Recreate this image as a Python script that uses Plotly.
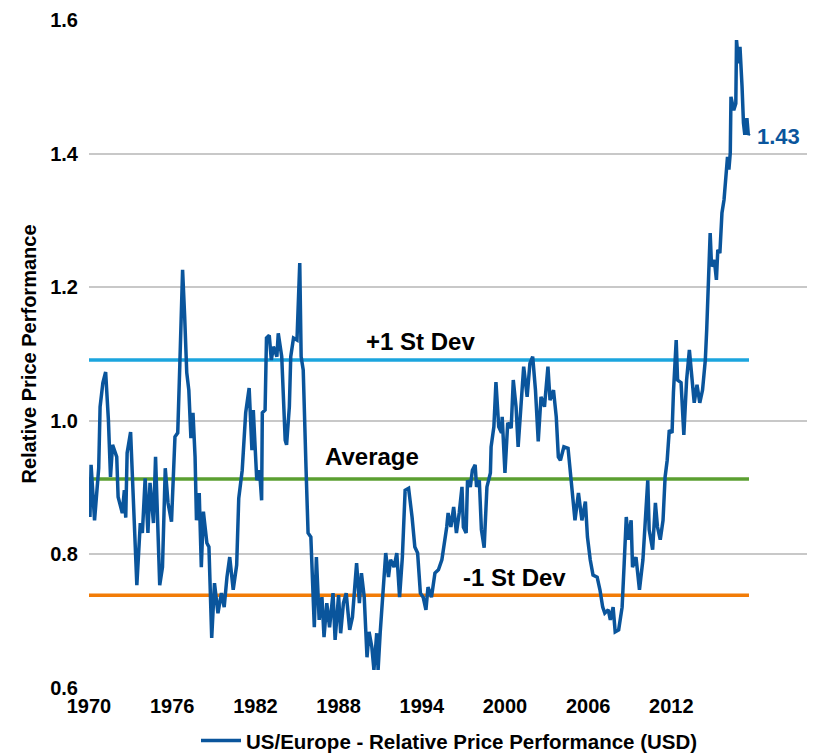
import plotly.graph_objects as go

# Time (fractional year) and relative price performance
years = [
    1970.07, 1970.15, 1970.4, 1970.7, 1970.8, 1971.0, 1971.2, 1971.4, 1971.55, 1971.7,
    1972.0, 1972.1, 1972.4, 1972.55, 1972.65, 1972.75, 1973.0, 1973.3, 1973.45, 1973.7,
    1973.85, 1974.05, 1974.25, 1974.4, 1974.65, 1974.8, 1975.1, 1975.3, 1975.5, 1975.7,
    1975.95, 1976.2, 1976.4, 1976.55, 1976.75, 1976.9, 1977.05, 1977.2, 1977.35, 1977.5,
    1977.65, 1977.75, 1977.95, 1978.1, 1978.25, 1978.5, 1978.65, 1978.85, 1979.05, 1979.3,
    1979.55, 1979.75, 1979.95, 1980.15, 1980.4, 1980.65, 1980.8, 1981.05, 1981.3, 1981.55,
    1981.75, 1981.85, 1982.0, 1982.1, 1982.3, 1982.45, 1982.5, 1982.7, 1982.8, 1983.0,
    1983.15, 1983.3, 1983.55, 1983.65, 1983.9, 1984.15, 1984.25, 1984.45, 1984.55, 1984.75,
    1985.0, 1985.2, 1985.3, 1985.45, 1985.65, 1985.8, 1986.0, 1986.25, 1986.4, 1986.6,
    1986.8, 1986.95, 1987.15, 1987.35, 1987.6, 1987.75, 1988.0, 1988.15, 1988.35, 1988.55,
    1988.8, 1989.0, 1989.3, 1989.5, 1989.65, 1989.85, 1990.05, 1990.2, 1990.4, 1990.55,
    1990.75, 1990.85, 1991.0, 1991.2, 1991.4, 1991.6, 1991.75, 1992.0, 1992.2, 1992.4,
    1992.6, 1992.8, 1993.05, 1993.3, 1993.5, 1993.7, 1993.9, 1994.1, 1994.3, 1994.45,
    1994.7, 1994.95, 1995.2, 1995.45, 1995.65, 1995.8, 1995.9, 1996.1, 1996.3, 1996.5,
    1996.7, 1996.9, 1997.0, 1997.2, 1997.3, 1997.5, 1997.65, 1997.85, 1997.95, 1998.15,
    1998.3, 1998.5, 1998.7, 1998.95, 1999.0, 1999.2, 1999.35, 1999.55, 1999.75, 1999.8,
    2000.0, 2000.2, 2000.45, 2000.6, 2000.8, 2000.95, 2001.15, 2001.35, 2001.6, 2001.8,
    2002.0, 2002.2, 2002.4, 2002.6, 2002.85, 2003.1, 2003.25, 2003.5, 2003.7, 2003.85,
    2004.0, 2004.25, 2004.55, 2004.75, 2004.9, 2005.05, 2005.3, 2005.55, 2005.8, 2005.95,
    2006.15, 2006.35, 2006.65, 2006.85, 2007.05, 2007.2, 2007.45, 2007.6, 2007.8, 2007.95,
    2008.2, 2008.45, 2008.6, 2008.75, 2008.9, 2009.1, 2009.2, 2009.45, 2009.7, 2009.95,
    2010.05, 2010.3, 2010.4, 2010.65, 2010.85, 2011.0, 2011.2, 2011.4, 2011.55, 2011.7,
    2011.85, 2012.05, 2012.15, 2012.35, 2012.45, 2012.7, 2012.9, 2013.1, 2013.3, 2013.5,
    2013.65, 2013.85, 2014.05, 2014.25, 2014.45, 2014.55, 2014.7, 2014.8, 2014.9, 2015.1,
    2015.25, 2015.35, 2015.5, 2015.65, 2015.8, 2016.0, 2016.05, 2016.15, 2016.25, 2016.3,
    2016.5, 2016.65, 2016.7, 2016.85, 2016.95, 2017.1, 2017.2, 2017.3, 2017.45, 2017.55,
    2017.6,
]
values = [
    0.856, 0.934, 0.851, 0.929, 1.021, 1.057, 1.073, 1.001, 0.916, 0.964,
    0.946, 0.886, 0.862, 0.896, 0.855, 0.952, 0.983, 0.837, 0.754, 0.847,
    0.832, 0.914, 0.832, 0.907, 0.847, 0.946, 0.754, 0.781, 0.929, 0.877,
    0.849, 0.976, 0.982, 1.084, 1.226, 1.156, 1.072, 1.046, 0.974, 1.012,
    0.946, 0.851, 0.892, 0.781, 0.864, 0.817, 0.811, 0.675, 0.757, 0.712,
    0.742, 0.721, 0.766, 0.796, 0.747, 0.784, 0.884, 0.926, 1.012, 1.049,
    0.956, 1.016, 0.937, 0.911, 0.926, 0.881, 1.012, 1.016, 1.124, 1.128,
    1.091, 1.111, 1.096, 1.131, 1.096, 0.971, 0.964, 1.021, 1.096, 1.124,
    1.121, 1.236, 1.096, 1.076, 0.931, 0.832, 0.826, 0.691, 0.796, 0.702,
    0.736, 0.676, 0.727, 0.691, 0.742, 0.672, 0.739, 0.682, 0.727, 0.742,
    0.687, 0.706, 0.787, 0.727, 0.772, 0.736, 0.646, 0.684, 0.661, 0.627,
    0.682, 0.627, 0.682, 0.751, 0.802, 0.766, 0.792, 0.781, 0.802, 0.736,
    0.796, 0.896, 0.899, 0.856, 0.811, 0.802, 0.742, 0.736, 0.717, 0.751,
    0.736, 0.772, 0.777, 0.792, 0.817, 0.841, 0.862, 0.841, 0.871, 0.832,
    0.862, 0.901, 0.841, 0.832, 0.911, 0.901, 0.926, 0.934, 0.901, 0.911,
    0.837, 0.810, 0.901, 0.922, 0.961, 0.991, 1.058, 0.991, 0.982, 1.006,
    0.922, 0.997, 0.989, 1.061, 1.021, 0.961, 1.021, 1.081, 1.036, 1.086,
    1.096, 1.046, 0.969, 1.036, 1.021, 1.081, 1.031, 1.046, 1.006, 0.946,
    0.941, 0.961, 0.959, 0.911, 0.877, 0.851, 0.892, 0.851, 0.879, 0.826,
    0.792, 0.769, 0.766, 0.747, 0.721, 0.712, 0.717, 0.702, 0.721, 0.684,
    0.687, 0.721, 0.787, 0.856, 0.822, 0.851, 0.781, 0.796, 0.747, 0.792,
    0.826, 0.911, 0.837, 0.807, 0.877, 0.841, 0.822, 0.851, 0.916, 0.941,
    0.986, 0.982, 1.042, 1.121, 1.061, 1.057, 0.979, 1.061, 1.106, 1.061,
    1.027, 1.054, 1.027, 1.046, 1.091, 1.136, 1.226, 1.281, 1.231, 1.241,
    1.211, 1.256, 1.251, 1.311, 1.331, 1.376, 1.395, 1.376, 1.401, 1.485,
    1.465, 1.475, 1.570, 1.535, 1.560, 1.500, 1.446, 1.428, 1.453, 1.428,
    1.430,
]

average = 0.913
plus_1sd = 1.091
minus_1sd = 0.739
last_label = "1.43"

tick_years = [1970, 1976, 1982, 1988, 1994, 2000, 2006, 2012]
y_ticks = [0.6, 0.8, 1.0, 1.2, 1.4, 1.6]

SERIES = "#0a559c"
FONT = "Liberation Sans"

fig = go.Figure()

span = [years[0] - 0.07, years[-1]]
for lvl, col in [(plus_1sd, "#1ba5de"), (average, "#5b9f31"), (minus_1sd, "#f27c07")]:
    fig.add_trace(go.Scatter(x=span, y=[lvl, lvl], mode="lines",
                             line=dict(color=col, width=3.5), showlegend=False,
                             hoverinfo="skip"))

fig.add_trace(go.Scatter(x=years, y=values, mode="lines",
                         name="US/Europe - Relative Price Performance (USD)",
                         line=dict(color=SERIES, width=3.5)))

ann_font = dict(family=FONT, size=24, color="black", weight="bold")
fig.add_annotation(x=1993.9, y=plus_1sd, text="+1 St Dev", showarrow=False,
                   yshift=19, font=ann_font)
fig.add_annotation(x=1990.4, y=average, text="Average", showarrow=False,
                   yshift=22, font=ann_font)
fig.add_annotation(x=2000.7, y=minus_1sd, text="-1 St Dev", showarrow=False,
                   yshift=18, font=ann_font)
fig.add_annotation(x=years[-1], y=values[-1], text=last_label, showarrow=False,
                   xanchor="left", xshift=6, yshift=-3,
                   font=dict(family=FONT, size=22, color=SERIES, weight="bold"))

fig.update_layout(
    width=807, height=747,
    margin=dict(l=81, r=5, t=12, b=67, autoexpand=False),
    plot_bgcolor="white", paper_bgcolor="white",
    font=dict(family=FONT, size=17, color="black"),
    showlegend=True,
    legend=dict(orientation="h", x=0.5, xanchor="center", y=-0.079, yanchor="middle",
                font=dict(family=FONT, size=20.5, color="black", weight="bold"),
                itemwidth=40),
    xaxis=dict(range=[1970, 2022], tickvals=tick_years,
               ticktext=[str(t) for t in tick_years],
               showgrid=False, zeroline=False, showline=False,
               tickfont=dict(family=FONT, size=20, color="black", weight="bold"),
               ticklabelstandoff=4),
    yaxis=dict(range=[0.6, 1.6], tickvals=y_ticks,
               ticktext=["0.6", "0.8", "1.0", "1.2", "1.4", "1.6"],
               showgrid=True, gridcolor="#c8c8c8", gridwidth=2,
               zeroline=False, showline=False,
               tickfont=dict(family=FONT, size=20, color="black", weight="bold"),
               ticklabelstandoff=10,
               title=dict(text="Relative Price Performance", standoff=8,
                          font=dict(family=FONT, size=20, color="black", weight="bold"))),
)

fig.write_html("out.html")
